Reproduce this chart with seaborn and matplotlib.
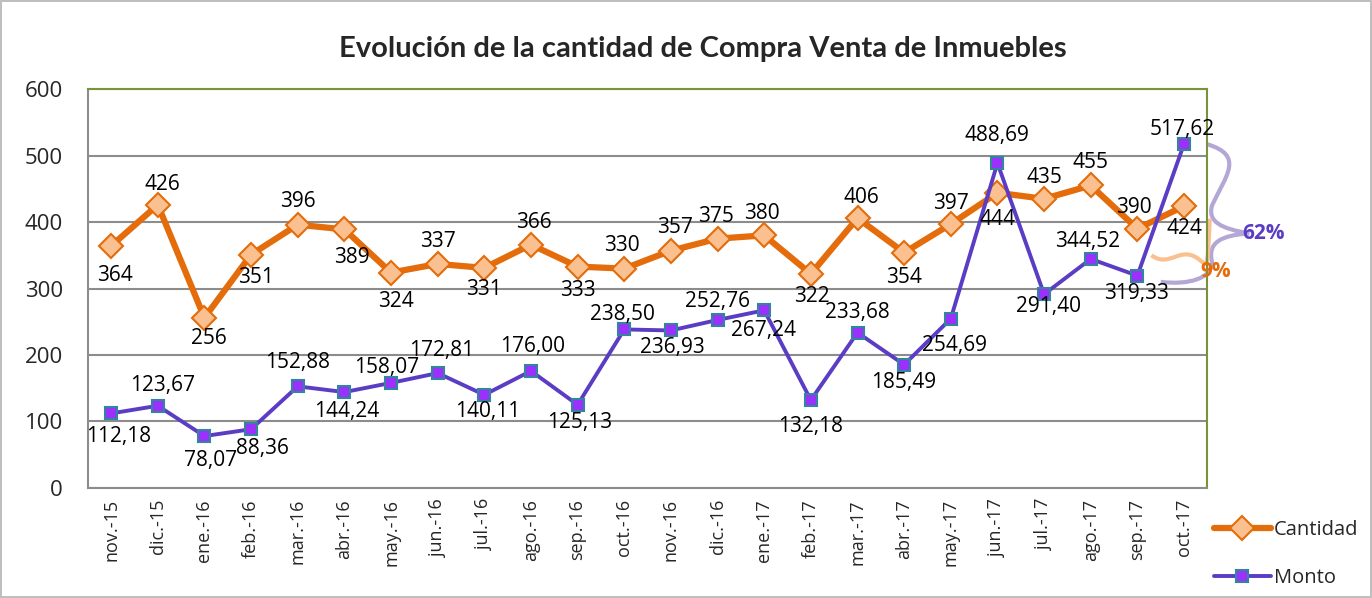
import matplotlib.pyplot as plt
import pandas as pd
import numpy as np
import seaborn as sns
from matplotlib.path import Path
from matplotlib.patches import PathPatch

# Data
meses = ['nov.-15', 'dic.-15', 'ene.-16', 'feb.-16', 'mar.-16', 'abr.-16', 'may.-16', 'jun.-16',
         'jul.-16', 'ago.-16', 'sep.-16', 'oct.-16', 'nov.-16', 'dic.-16', 'ene.-17', 'feb.-17',
         'mar.-17', 'abr.-17', 'may.-17', 'jun.-17', 'jul.-17', 'ago.-17', 'sep.-17', 'oct.-17']
cantidad = [364, 426, 256, 351, 396, 389, 324, 337, 331, 366, 333, 330,
            357, 375, 380, 322, 406, 354, 397, 444, 435, 455, 390, 424]
monto = [112.18, 123.67, 78.07, 88.36, 152.88, 144.24, 158.07, 172.81, 140.11, 176.00, 125.13, 238.50,
         236.93, 252.76, 267.24, 132.18, 233.68, 185.49, 254.69, 488.69, 291.40, 344.52, 319.33, 517.62]

# label offsets from the marker, in pixels (dx right, dy down)
dx_cantidad = [4, 5, 4, 5, 0, 8, 5, 0, 0, 3, 0, -2, 4, -2, -2, 1, 4, 0, 0, 0, 0, 0, -4, 0]
dy_cantidad = [30, -20, 21, 23, -23, 28, 29, -22, 22, -22, 24, -23,
               -23, -22, -22, 23, -21, 25, -21, 27, -21, -23, -21, 22]
dx_monto = [7, 5, 6, 11, 0, 2, -4, 4, 3, 2, 2, -2, 1, 0, -1, 0, 0, -1, 4, -1, 4, -3, -1, -2]
dy_monto = [23, -20, 24, 19, -24, 19, -15, -23, 17, -24, 18, -15,
            17, -18, 20, 26, -20, 18, 27, -28, 12, -17, 18, -14]

sns.set_style('white')
plt.rcParams['font.family'] = ['Open Sans', 'DejaVu Sans']

df = pd.DataFrame({'mes': meses, 'Cantidad': cantidad, 'Monto': monto})

fig = plt.figure(figsize=(13.72, 5.98), dpi=100)
fig.patch.set_edgecolor('#bfbfbf')
fig.patch.set_linewidth(1.5)
ax = fig.add_axes([0.064, 0.184, 0.816, 0.667])

naranja = '#e46c0a'
morado = '#5b3cc4'

sns.lineplot(data=df, x='mes', y='Cantidad', ax=ax, color=naranja, lw=4.5, marker='D', markersize=12,
             markerfacecolor='#fac090', markeredgecolor=naranja, markeredgewidth=1.5, label='Cantidad')
sns.lineplot(data=df, x='mes', y='Monto', ax=ax, color=morado, lw=2.8, marker='s', markersize=9,
             markerfacecolor='#9b30ff', markeredgecolor='#31859c', markeredgewidth=1.5, label='Monto')

px = 0.72  # points per pixel at 100 dpi
for i, v in enumerate(cantidad):
    ax.annotate(f'{v}', (i, v), xytext=(dx_cantidad[i] * px, -dy_cantidad[i] * px),
                textcoords='offset points', ha='center', va='center', fontsize=15, color='black')
for i, v in enumerate(monto):
    ax.annotate(f'{v:.2f}'.replace('.', ','), (i, v), xytext=(dx_monto[i] * px, -dy_monto[i] * px),
                textcoords='offset points', ha='center', va='center', fontsize=15, color='black')

ax.set_xlim(-0.5, len(meses) - 0.5)
ax.set_ylim(0, 600)
ax.set_yticks(range(0, 601, 100))
ax.yaxis.grid(True, color='#8c8c8c', lw=1.5)
ax.set_axisbelow(True)
ax.set_xlabel('')
ax.set_ylabel('')
ax.tick_params(axis='x', labelrotation=90, labelsize=13, length=0, pad=8)
ax.tick_params(axis='y', labelsize=16, length=0, pad=18)
for side in ['left', 'bottom']:
    ax.spines[side].set_color('#8c8c8c')
    ax.spines[side].set_linewidth(1.5)
for side in ['top', 'right']:
    ax.spines[side].set_color('#77933c')
    ax.spines[side].set_linewidth(1.5)

fig.suptitle('Evolución de la cantidad de Compra Venta de Inmuebles', x=0.512, y=0.94,
             fontsize=21, fontweight='bold', family=['Lato', 'DejaVu Sans'])

# purple brace
codes = [Path.MOVETO, Path.CURVE4, Path.CURVE4, Path.CURVE4, Path.CURVE4, Path.CURVE4, Path.CURVE4,
         Path.CURVE4, Path.CURVE4, Path.CURVE4, Path.CURVE4, Path.CURVE4, Path.CURVE4]
verts = [(23.5, 517), (24.3, 500), (23.9, 470), (23.6, 425),
         (23.5, 400), (23.8, 390), (24.4, 383),
         (23.8, 380), (23.5, 370), (23.6, 340),
         (23.6, 315), (23.1, 305), (22.5, 310)]
ax.add_patch(PathPatch(Path(verts, codes), fill=False, ec='#b4a7d6', lw=3, clip_on=False))
# orange squiggle
verts2 = [(22.3, 350), (22.7, 330), (22.9, 365), (23.3, 345),
          (23.5, 335), (23.5, 320), (23.55, 405)]
codes2 = [Path.MOVETO, Path.CURVE4, Path.CURVE4, Path.CURVE4, Path.CURVE4, Path.CURVE4, Path.CURVE4]
ax.add_patch(PathPatch(Path(verts2, codes2), fill=False, ec='#fac090', lw=3, clip_on=False))
ax.text(24.25, 383, '62%', color=morado, fontsize=15, fontweight='bold', va='center', ha='left',
        clip_on=False)
ax.text(23.35, 325, '9%', color=naranja, fontsize=15, fontweight='bold', va='center', ha='left',
        clip_on=False)

ax.legend(loc='center left', bbox_to_anchor=(0.99, -0.165), frameon=False, fontsize=14.5,
          labelspacing=1.4, handlelength=2.8, handletextpad=0.15)

fig.savefig('out.png', dpi=100)
